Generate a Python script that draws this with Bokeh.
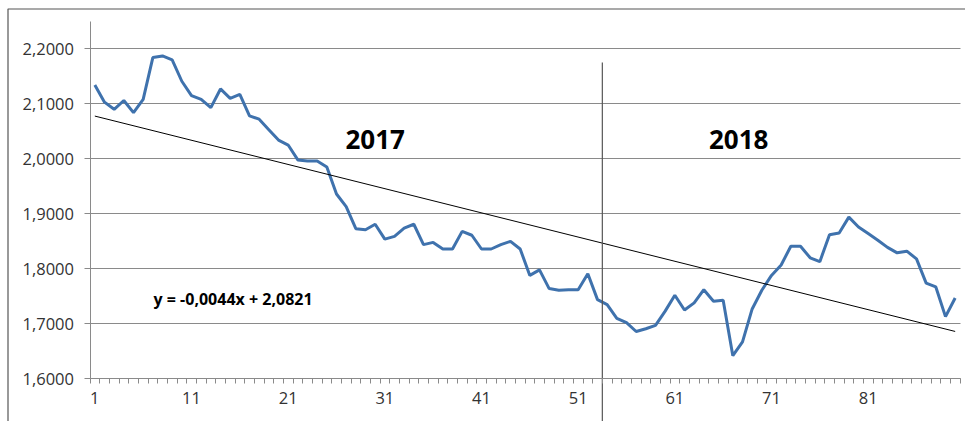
from bokeh.plotting import figure
from bokeh.models import (Range1d, FixedTicker, CustomJSTickFormatter, Label,
                          BoxAnnotation, ColumnDataSource)
from bokeh.embed import file_html
from bokeh.resources import INLINE

# ---- data ----
periods = list(range(1, 91))
values = [
    2.134, 2.103, 2.090, 2.106, 2.084, 2.108, 2.184, 2.187, 2.180, 2.141,
    2.115, 2.108, 2.093, 2.127, 2.110, 2.117, 2.078, 2.072, 2.053, 2.034,
    2.025, 1.998, 1.996, 1.996, 1.985, 1.936, 1.913, 1.873, 1.871, 1.881,
    1.854, 1.859, 1.874, 1.881, 1.844, 1.848, 1.836, 1.836, 1.868, 1.861,
    1.836, 1.836, 1.844, 1.850, 1.836, 1.788, 1.798, 1.764, 1.761, 1.762,
    1.762, 1.791, 1.744, 1.735, 1.710, 1.702, 1.686, 1.691, 1.697, 1.723,
    1.752, 1.725, 1.738, 1.762, 1.741, 1.743, 1.642, 1.667, 1.727, 1.761,
    1.788, 1.807, 1.841, 1.841, 1.820, 1.813, 1.862, 1.865, 1.894, 1.876,
    1.864, 1.852, 1.839, 1.829, 1.832, 1.818, 1.774, 1.767, 1.713, 1.747,
]
trend_slope = -0.0044
trend_intercept = 2.0821
trend_label = "y = -0,0044x + 2,0821"
y_ticks = [1.6, 1.7, 1.8, 1.9, 2.0, 2.1, 2.2]
x_tick_labels = [1, 11, 21, 31, 41, 51, 61, 71, 81]
year_labels = ["2017", "2018"]
year_positions = [30.0, 67.6]
year_split = 53.5

FONT = "Open Sans"
GRID = "#8a8a8a"

# plot area spans the whole canvas; axes are pinned at data locations
W, H = 965, 421
X0_PX, X1_PX = 89.5, 959.5       # category band 0.5 .. 90.5
Y16_PX, Y22_PX = 378.3, 48.3     # value 1.6 and 2.2
xs = (X1_PX - X0_PX) / 90.0
ys = (Y16_PX - Y22_PX) / 0.6
x_start = 0.5 - X0_PX / xs
x_end = 90.5 + (W - X1_PX) / xs
y_start = 1.6 - (H - Y16_PX) / ys
y_end = 1.6 + Y16_PX / ys
y_axis_top = 2.25

p = figure(width=W, height=H, output_backend="svg", toolbar_location=None,
           x_range=Range1d(x_start, x_end), y_range=Range1d(y_start, y_end),
           min_border=0)
p.outline_line_color = None
p.background_fill_color = "white"
p.border_fill_color = "white"

# axes
p.yaxis.fixed_location = 0.5
p.yaxis.bounds = (1.6, y_axis_top)
p.yaxis.ticker = FixedTicker(ticks=y_ticks)
p.yaxis.formatter = CustomJSTickFormatter(code="return tick.toFixed(4).replace('.', ',');")
p.yaxis.axis_line_color = GRID
p.yaxis.major_tick_line_color = GRID
p.yaxis.major_tick_out = 6
p.yaxis.major_tick_in = 0
p.yaxis.minor_tick_line_color = None
p.yaxis.major_label_text_font = FONT
p.yaxis.major_label_text_font_size = "16.5px"
p.yaxis.major_label_text_color = "#333333"
p.yaxis.major_label_standoff = 10

p.xaxis.fixed_location = 1.6
p.xaxis.bounds = (0.5, 90.5)
p.xaxis.ticker = FixedTicker(ticks=x_tick_labels,
                             minor_ticks=[i + 0.5 for i in range(0, 91)])
p.xaxis.axis_line_color = GRID
p.xaxis.major_tick_line_color = None
p.xaxis.major_tick_out = 0
p.xaxis.major_tick_in = 0
p.xaxis.minor_tick_line_color = GRID
p.xaxis.minor_tick_out = 5
p.xaxis.minor_tick_in = 0
p.xaxis.major_label_text_font = FONT
p.xaxis.major_label_text_font_size = "16.5px"
p.xaxis.major_label_text_color = "#333333"
p.xaxis.major_label_standoff = 8

p.xgrid.grid_line_color = None
p.ygrid.grid_line_color = GRID
p.ygrid.grid_line_width = 1
p.ygrid.cross_bounds = (0.5, 90.5)

# outer chart border (left and top edges visible); screen y counts from bottom
p.add_layout(BoxAnnotation(left=7.5, right=2000, top=H - 8.5, bottom=-1000,
                           left_units="screen", right_units="screen",
                           top_units="screen", bottom_units="screen",
                           fill_alpha=0, line_color="#555555", line_alpha=1.0,
                           line_width=1.2))

# data line
src = ColumnDataSource(dict(x=periods, y=values))
p.line("x", "y", source=src, line_color="#3f72ad", line_width=3)

# trend line
tx = [periods[0], periods[-1]]
ty = [trend_slope * v + trend_intercept for v in tx]
p.line(tx, ty, line_color="black", line_width=1)

# year split line
p.segment(x0=[year_split], y0=[2.175], x1=[year_split], y1=[y_start],
          line_color="#555555", line_width=1.2)

for lab, xp in zip(year_labels, year_positions):
    p.add_layout(Label(x=xp, y=2.035, text=lab, text_font=FONT,
                       text_font_size="26px", text_font_style="bold",
                       text_align="center", text_baseline="middle",
                       text_color="black"))

p.add_layout(Label(x=15.3, y=1.745, text=trend_label, text_font=FONT,
                   text_font_size="16px", text_font_style="bold",
                   text_align="center", text_baseline="middle",
                   text_color="black"))

open("out.html", "w").write(file_html(p, INLINE))
